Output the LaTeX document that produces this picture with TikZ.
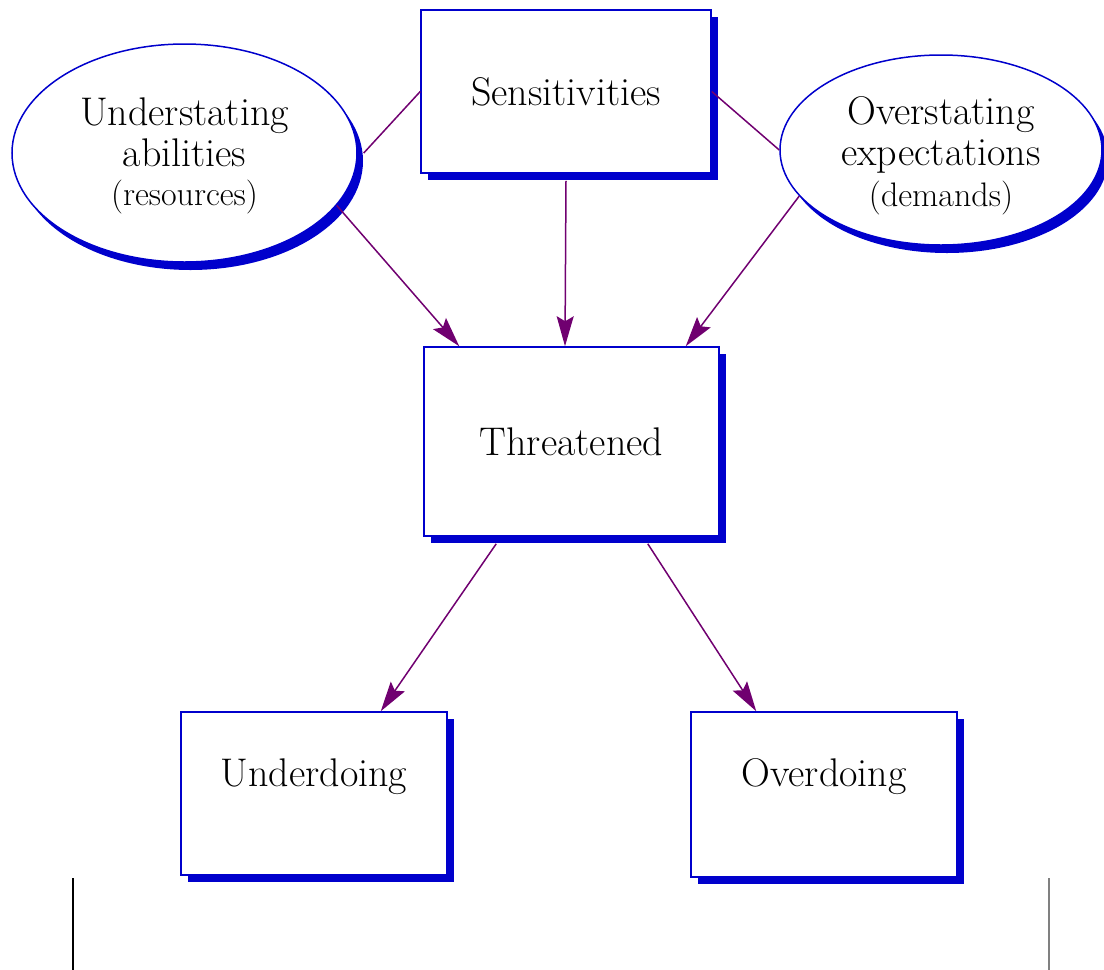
\documentclass[tikz,border=0pt]{standalone}
\usetikzlibrary{shapes.geometric,shadows,arrows.meta}
\definecolor{diagblue}{RGB}{0,0,204}
\definecolor{linkpurple}{RGB}{112,0,112}
\begin{document}
\begin{tikzpicture}[x=0.5pt,y=-0.5pt,
    box/.style={rectangle,draw=diagblue,line width=0.75pt,fill=white,inner sep=0pt,
        drop shadow={shadow xshift=3.5pt,shadow yshift=-3.5pt,fill=diagblue,opacity=1},
        font=\fontsize{20}{20.5}\selectfont},
    oval/.style={ellipse,draw=diagblue,line width=0.75pt,fill=white,inner sep=0pt,align=center,
        drop shadow={shadow xshift=3pt,shadow yshift=-4pt,fill=diagblue,opacity=1},
        font=\fontsize{20}{20.5}\selectfont},
    link/.style={draw=linkpurple,line width=0.75pt},
    arrow/.style={link,-{Stealth[length=15pt,width=8.5pt,inset=2.5pt]}}]
\useasboundingbox (0,0) rectangle (1104,970);
\newcommand{\subsize}{\fontsize{17}{17}\selectfont}
        \node[box,minimum width=145pt,text height=47.5pt,text depth=34pt] (sens) at (566,91.5) {Sensitivities};
        \node[oval,minimum width=172.5pt,minimum height=109pt] (abil) at (184.5,153)
            {\rule{0pt}{17pt}Understating\\abilities\\[-1pt]{\subsize (resources)}};
        \node[oval,minimum width=161pt,minimum height=95pt] (expect) at (941,150)
            {\rule{0pt}{20pt}Overstating\\expectations\\[0pt]{\subsize (demands)}};
        \node[box,minimum width=147.5pt,text height=54pt,text depth=40.5pt] (thr) at (571.5,441.5) {Threatened};
        \node[box,minimum width=133pt,text height=37pt,text depth=44.5pt] (under) at (314,793.5) {Underdoing};
        \node[box,minimum width=133pt,text height=37pt,text depth=45.5pt] (over) at (824,794.5) {Overdoing};
        % plain links
        \draw[link] (sens.west) -- ([xshift=3pt]abil.east);
        \draw[link] (sens.east) -- (expect.west);
        % arrows into Threatened
        \draw[arrow] (abil.-19) -- ([xshift=18pt]thr.north west);
        \draw[arrow] ([yshift=-3.5pt]sens.south) -- ([xshift=-3.25pt]thr.north);
        \draw[arrow] (expect.198) -- ([xshift=-17pt]thr.north east);
        % arrows out of Threatened
        \draw[arrow] ([xshift=36.5pt,yshift=-3.5pt]thr.south west) -- ([xshift=-33.5pt]under.north east);
        \draw[arrow] ([xshift=-36pt,yshift=-3.5pt]thr.south east) -- ([xshift=33pt]over.north west);
        % margin rules
        \draw[black,line width=0.75pt] (73,878) -- (73,970);
        \draw[gray,line width=0.75pt] (1049,878) -- (1049,970);
\end{tikzpicture}
\end{document}
